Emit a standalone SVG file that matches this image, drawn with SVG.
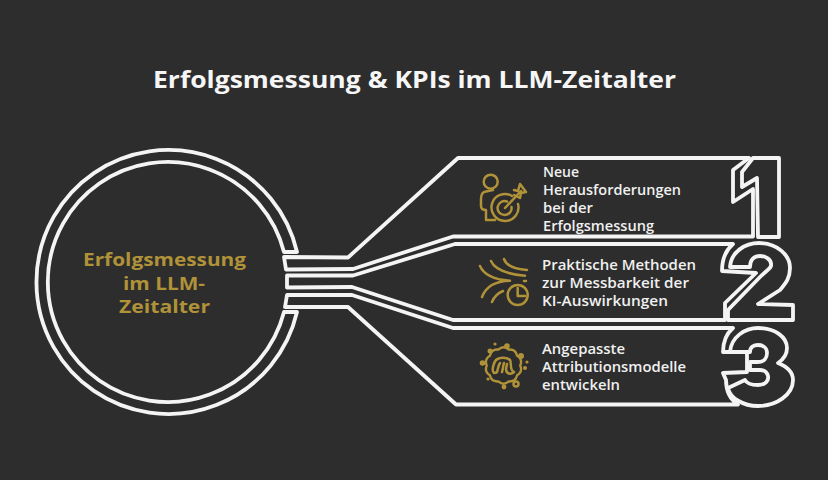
<svg xmlns="http://www.w3.org/2000/svg" width="828" height="480" viewBox="0 0 828 480">
<style>
.o{fill:none;stroke:#f4f4f4;stroke-width:3.8;stroke-linejoin:round;stroke-linecap:round}
.i{fill:none;stroke:#b09238;stroke-width:2.5;stroke-linecap:round;stroke-linejoin:round}
.d{fill:#b09238}
.t{font-family:"Open Sans","Liberation Sans",sans-serif;font-weight:600;font-size:13.5px;fill:#f0f0f0}
.c{font-family:"Open Sans","Liberation Sans",sans-serif;font-weight:700;font-size:18px;fill:#b09238}
</style>
<rect width="828" height="480" fill="#2d2d2d"/>
<text id="title" x="153" y="88" textLength="523" lengthAdjust="spacingAndGlyphs" font-family="Open Sans, Liberation Sans, sans-serif" font-weight="700" font-size="24" fill="#f6f6f6">Erfolgsmessung &amp; KPIs im LLM-Zeitalter</text>
<g id="hub">
<path class="o" d="M284,252 A120,120 0 1 0 284,312 L297,312 A132,132 0 1 1 297,252 Z"/>
<text class="c" x="83" y="266" textLength="163" lengthAdjust="spacingAndGlyphs">Erfolgsmessung</text>
<text class="c" x="123" y="290" textLength="82" lengthAdjust="spacingAndGlyphs">im LLM-</text>
<text class="c" x="119" y="313" textLength="91" lengthAdjust="spacingAndGlyphs">Zeitalter</text>
</g>
<g id="connectors">
<path class="o" d="M749,158 L458,158 L348,257.500 L284,257 L286,269.500 L353,269 L453,236.500 L753,236.500 L753,189 L733,202 L733,170 Z"/>
<path class="o" d="M733,244 L455,244 L353,275.500 L287,275.500 L287,287.500 L352,287 L453,320 L725,320 L725,303 L756,273 L722,271 C722,258 726,250 733,244 Z"/>
<path class="o" d="M733,328 L453,328 L352,295 L287,295 L285,307 L348,307 L456,404.500 L738,404.500 C731,400 726,392 726,380 L723,373 L747,372 L747,352 L723,352 C723,342 726,334 733,328 Z"/>
</g>
<g id="item-1">
<path class="o" d="M779,158 L779,237 L758,237 L757,178 L742,187 L742,172 L753,158 Z"/>
<circle class="i" cx="490.700" cy="181.700" r="7"/>
<path class="i" d="M486,191.500 L493,190 M486,191.500 C482,192 481,195 481,199 L481,206 Q481,210 486,210 L486,220 L495,220"/>
<path class="i" d="M512,196 A13.500,13.500 0 1 0 518,204 M507,201.500 A7,7 0 1 0 511.500,207"/>
<path class="i" d="M505,208 L521,191 M514,190 L518,191 L520,184 L526,192 L521,193 L520,198 L514,195"/>
<text class="t" x="543" y="177" textLength="36" lengthAdjust="spacingAndGlyphs">Neue</text>
<text class="t" x="543" y="195" textLength="138" lengthAdjust="spacingAndGlyphs">Herausforderungen</text>
<text class="t" x="543" y="213" textLength="50" lengthAdjust="spacingAndGlyphs">bei der</text>
<text class="t" x="543" y="231" textLength="111" lengthAdjust="spacingAndGlyphs">Erfolgsmessung</text>
</g>
<g id="item-2">
<path class="o" d="M730,267 C731,252 745,243 759,243 C777,243 790,255 790,268 C790,278 786,283 780,290 L758,304 L793,305 L793,320 L728,320 L728,310 L760,277 C768,269 772,268 771,264 C771,259 765,256 760,256 C753,256 750,261 750,267 Z"/>
<path class="i" d="M480,266 C483,273 492,280 510,280.700 C496,281 486,286 482,297"/>
<path class="i" d="M491,261 C494,268 505,274 525,275.700 M504,259 C506,265 515,269 527,270 M524,281 L526,281 M492,302 C494,297 498,293 503,291"/>
<circle class="i" cx="517.700" cy="295" r="10"/>
<path class="i" d="M517.700,288 L517.700,296 L525,296"/>
<text class="t" x="542" y="270" textLength="154" lengthAdjust="spacingAndGlyphs">Praktische Methoden</text>
<text class="t" x="542" y="288" textLength="147" lengthAdjust="spacingAndGlyphs">zur Messbarkeit der</text>
<text class="t" x="542" y="306" textLength="126" lengthAdjust="spacingAndGlyphs">KI-Auswirkungen</text>
</g>
<g id="item-3">
<path class="o" d="M730,352 C731,337 745,328 758,328 C775,328 787,337 787,348 C787,355 784,359 778,363 C788,367 793,372 793,380 C793,395 776,406 758,406 C743,406 730,398 728,388 L745,380 C747,384 752,385 758,385 C765,385 769,381 768,376 C767,372 764,370 760,370 L750,370 L750,362 L758,362 C764,362 767,358 767,353 C767,348 763,345 758,345 C754,345 750,347 750,352 Z"/>
<path class="i" transform="translate(503.500 365.500) scale(.93) translate(-503 -365)" d="M521,365 Q523.900,371.800 517.600,375.600 Q516,382.800 508.600,382.100 Q503,387 497.400,382.100 Q490,382.800 488.400,375.600 Q482.100,371.800 485,365 Q482.100,358.200 488.400,354.400 Q490,347.200 497.400,347.900 Q503,343 508.600,347.900 Q516,347.200 517.600,354.400 Q523.900,358.200 521,365 Z"/>
<path class="i" d="M494,373 C491,371 494,362 496,360 C499,357 507,357 510,360 C512,363 509,370 514,372 C511,375 506,374 506,369 L507,364 M500,363 C498,366 498,369 497,372 Q496,373 494,373 M504,363 C503,366 503,369 502,372"/>
<circle class="d" cx="482.500" cy="363" r="2.800"/><circle class="d" cx="490" cy="351" r="2.500"/><circle class="d" cx="495" cy="344" r="1.600"/><circle class="d" cx="507" cy="346" r="2.800"/><circle class="d" cx="521" cy="356" r="3"/><circle class="d" cx="527" cy="362" r="1.600"/><circle class="d" cx="525" cy="368" r="2"/><circle class="i" cx="516" cy="384" r="2.500"/><circle class="d" cx="504" cy="387" r="2.400"/><circle class="d" cx="488" cy="379" r="1.600"/>
<text class="t" x="542" y="354" textLength="83" lengthAdjust="spacingAndGlyphs">Angepasste</text>
<text class="t" x="542" y="372" textLength="144" lengthAdjust="spacingAndGlyphs">Attributionsmodelle</text>
<text class="t" x="542" y="390" textLength="78" lengthAdjust="spacingAndGlyphs">entwickeln</text>
</g>
</svg>
